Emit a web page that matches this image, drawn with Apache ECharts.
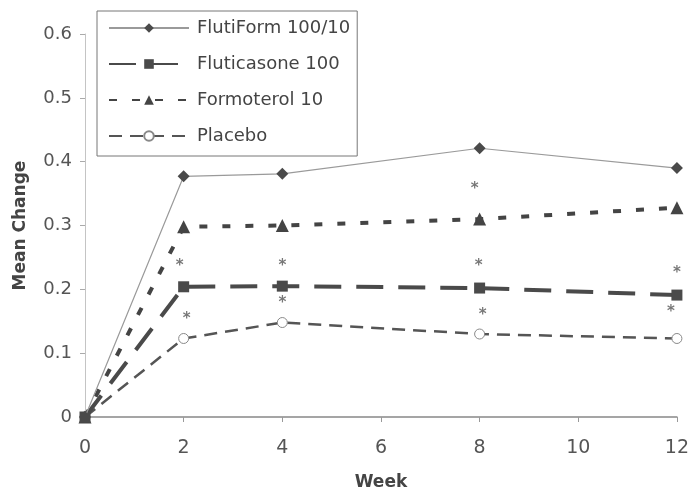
<!DOCTYPE html>
<html>
<head>
<meta charset="utf-8">
<script src="https://cdn.jsdelivr.net/npm/echarts@6/dist/echarts.min.js"></script>
<style>
  html, body { margin: 0; padding: 0; background: #fff; }
  #chart { width: 692px; height: 496px; }
</style>
</head>
<body>
<div id="chart"></div>
<script>
// weeks on the x axis
const weeks = [0, 2, 4, 8, 12];
// mean change per treatment
const flutiform = [0, 0.377, 0.381, 0.421, 0.390];
const fluticasone = [0, 0.204, 0.205, 0.202, 0.191];
const formoterol = [0, 0.298, 0.300, 0.310, 0.328];
const placebo = [0, 0.123, 0.148, 0.130, 0.123];
// significance stars [week, y]
const stars = [
    [1.92, 0.237], [2.06, 0.154],
    [4, 0.237], [4, 0.178],
    [7.9, 0.357], [7.98, 0.236], [8.06, 0.160],
    [12, 0.226], [11.88, 0.164]
];

const font = 'DejaVu Sans, Verdana, sans-serif';

function pairs(values) {
    return weeks.map((w, i) => [w, values[i]]);
}

const myChart = echarts.init(document.getElementById('chart'));
const option = {
    animation: false,
    grid: { left: 85, right: 14, top: 34, bottom: 78 },
    legend: {
        left: 97,
        top: 11,
        orient: 'vertical',
        padding: [8, 7, 11, 11],
        itemWidth: 80,
        itemHeight: 12,
        itemGap: 18,
        borderColor: '#777',
        borderWidth: 1,
        backgroundColor: '#fff',
        textStyle: { fontFamily: font, fontSize: 18, color: '#444', padding: [0, 0, 0, 3] },
        data: ['FlutiForm 100/10', 'Fluticasone 100', 'Formoterol 10', 'Placebo']
    },
    xAxis: {
        type: 'value',
        min: 0,
        max: 12,
        interval: 2,
        name: 'Week',
        nameLocation: 'middle',
        nameGap: 57,
        nameTextStyle: { fontFamily: font, fontSize: 17, fontWeight: 'bold', color: '#444' },
        axisLine: { lineStyle: { color: '#888', width: 1.5 } },
        axisTick: { show: true, length: 5, lineStyle: { color: '#999' } },
        axisLabel: { fontFamily: font, fontSize: 19, color: '#555', margin: 22 },
        splitLine: { show: false }
    },
    yAxis: {
        type: 'value',
        min: 0,
        max: 0.6,
        interval: 0.1,
        name: 'Mean Change',
        nameLocation: 'middle',
        nameGap: 56,
        nameTextStyle: { fontFamily: font, fontSize: 17, fontWeight: 'bold', color: '#444' },
        axisLine: { show: true, lineStyle: { color: '#c4c4c4', width: 1 } },
        axisTick: { show: true, length: 5, lineStyle: { color: '#aaa' } },
        axisLabel: { fontFamily: font, fontSize: 18, color: '#555', margin: 13 },
        splitLine: { show: false }
    },
    series: [
        {
            type: 'line',
            name: 'Placebo',
            data: pairs(placebo),
            symbol: 'circle',
            symbolSize: 10,
            itemStyle: { color: '#fff', borderColor: '#888', borderWidth: 1 },
            lineStyle: { color: '#555', width: 2.5, type: [13, 8] },
            z: 2
        },
        {
            type: 'line',
            name: 'Formoterol 10',
            data: pairs(formoterol),
            symbol: 'triangle',
            symbolSize: 13,
            itemStyle: { color: '#444' },
            lineStyle: { color: '#444', width: 4, type: [8, 15] },
            z: 3
        },
        {
            type: 'line',
            name: 'Fluticasone 100',
            data: pairs(fluticasone),
            symbol: 'rect',
            symbolSize: 11,
            itemStyle: { color: '#4a4a4a' },
            lineStyle: { color: '#4a4a4a', width: 4, type: [27, 15] },
            z: 4
        },
        {
            type: 'line',
            name: 'FlutiForm 100/10',
            data: pairs(flutiform),
            symbol: 'diamond',
            symbolSize: 12,
            itemStyle: { color: '#4a4a4a' },
            lineStyle: { color: '#9a9a9a', width: 1.2 },
            z: 5
        },
        {
            type: 'scatter',
            name: 'stars',
            data: stars,
            symbolSize: 0,
            silent: true,
            label: {
                show: true,
                position: 'inside',
                formatter: '*',
                fontFamily: font,
                fontSize: 15,
                fontWeight: 'bold',
                color: '#555'
            }
        }
    ]
};
myChart.setOption(option);
</script>
</body>
</html>
